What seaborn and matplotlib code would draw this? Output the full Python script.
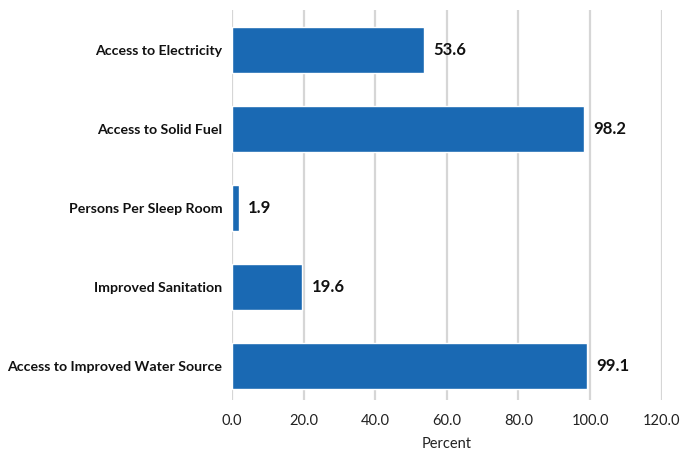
import matplotlib
matplotlib.use("Agg")
import matplotlib.pyplot as plt
import seaborn as sns
import pandas as pd

categories = [
    "Access to Electricity",
    "Access to Solid Fuel",
    "Persons Per Sleep Room",
    "Improved Sanitation",
    "Access to Improved Water Source",
]
values = [53.6, 98.2, 1.9, 19.6, 99.1]
x_ticks = [0, 20, 40, 60, 80, 100, 120]

sns.set_theme(style="white")
plt.rcParams["font.family"] = ["Lato", "DejaVu Sans"]

df = pd.DataFrame({"category": categories, "value": values})

fig = plt.figure(figsize=(6.8, 4.59), dpi=100)
ax = fig.add_axes([0.341, 0.129, 0.632, 0.849])

sns.barplot(data=df, x="value", y="category", orient="h", color="#1a69b3",
            saturation=1, width=0.58, ax=ax, zorder=3)

ax.set_xlim(0, 120)
ax.set_ylim(4.43, -0.51)
ax.set_xticks(x_ticks)
ax.set_xticklabels([f"{t:.1f}" for t in x_ticks], fontsize=10.5, color="#222222")
ax.tick_params(axis="x", length=0, pad=10)
ax.tick_params(axis="y", length=0, pad=7)
for lbl in ax.get_yticklabels():
    lbl.set_fontweight("bold")
    lbl.set_fontsize(10.2)
    lbl.set_color("#111111")

ax.grid(axis="x", color="#d6d6d6", linewidth=1.6, zorder=0)
ax.grid(axis="y", visible=False)
for s in ax.spines.values():
    s.set_visible(False)

ax.set_ylabel("")
ax.set_xlabel("Percent", fontsize=10.5, color="#222222", labelpad=7)

for i, v in enumerate(values):
    ax.text(v + 2.6, i, f"{v:.1f}", va="center", ha="left",
            fontsize=12, fontweight="bold", color="#111111")

fig.savefig("out.png", dpi=100)
